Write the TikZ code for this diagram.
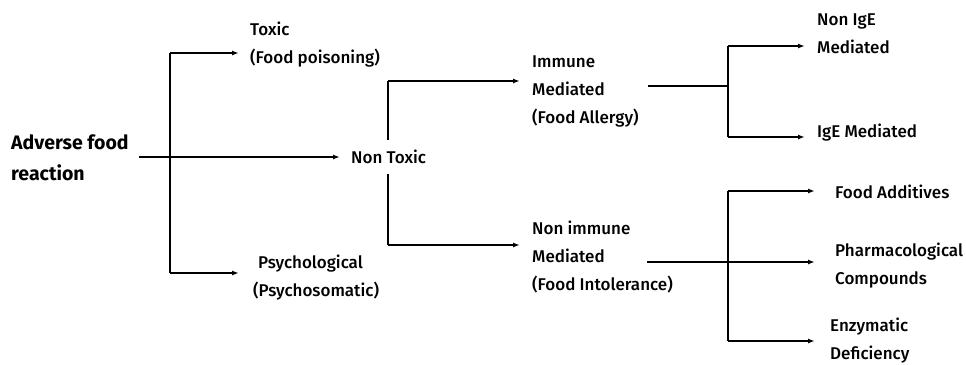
\documentclass[tikz,border=0pt]{standalone}
\usepackage{fontspec}
\setmainfont{Fira Sans Medium}[BoldFont={Fira Sans Bold}]
\usetikzlibrary{arrows.meta}
\begin{document}
\begin{tikzpicture}[x=1pt,y=-1pt,
  lbl/.style={anchor=west,align=left,inner ysep=0pt,font=\fontsize{17}{28}\selectfont},
  conn/.style={line width=1.4pt},
  arr/.style={conn,-{Latex[length=7pt,width=5pt]}}]
\useasboundingbox[fill=white] (0,0) rectangle (966,364);
% nodes
\node[lbl,inner xsep=0pt,font=\fontsize{19.5}{31}\selectfont\bfseries] (adv) at (11,157.5) {Adverse food\\reaction};
\node[lbl,inner xsep=11pt] (toxic) at (239,45) {Toxic\\(Food poisoning)};
\node[lbl,inner xsep=14pt] (psych) at (239,278) {\hspace*{5pt}Psychological\\(Psychosomatic)};
\node[lbl,inner xsep=11pt,inner ysep=10pt] (nontox) at (340,157) {Non Toxic};
\node[lbl,inner xsep=12pt] (immune) at (520,91) {Immune\\Mediated\\(Food Allergy)};
\node[lbl,inner xsep=12pt] (nonimm) at (520,257) {Non immune\\Mediated\\(Food Intolerance)};
\node[lbl,inner xsep=12pt] (nonige) at (805,33.5) {Non IgE\\Mediated};
\node[lbl,inner xsep=12pt] (ige) at (805,133) {IgE Mediated};
\node[lbl,inner xsep=20pt] (addit) at (815,192) {Food Additives};
\node[lbl,inner xsep=20pt] (pharm) at (815,265.5) {Pharmacological\\Compounds};
\node[lbl,inner xsep=15pt] (enzym) at (815,341) {Enzymatic\\Deficiency};
% branch coordinates
\coordinate (a0) at (139,157);
\coordinate (b1) at (170,53);
\coordinate (b2) at (170,273);
\coordinate (c1) at (388,81);
\coordinate (c2) at (388,245);
\coordinate (d0) at (648,86);
\coordinate (d1) at (728,46);
\coordinate (d2) at (728,137);
\coordinate (e0) at (647,262);
\coordinate (e1) at (728,191);
\coordinate (e2) at (728,341);
% connectors
\draw[conn] (b1) -- (b2);
\draw[arr] (b1) -- (toxic.west |- b1);
\draw[arr] (b2) -- (psych.west |- b2);
\draw[arr] (a0) -- (nontox.west);
\draw[conn] (c1) -- (c1 |- nontox.north);
\draw[conn] (c2) -- (c2 |- nontox.south);
\draw[arr] (c1) -- (immune.west |- c1);
\draw[arr] (c2) -- (nonimm.west |- c2);
\draw[conn] (d0) -- (d0 -| d1);
\draw[conn] (d1) -- (d2);
\draw[arr] (d1) -- (nonige.west |- d1);
\draw[arr] (d2) -- (ige.west |- d2);
\draw[conn] (e1) -- (e2);
\draw[arr] (e0) -- (pharm.west |- e0);
\draw[arr] (e1) -- (addit.west |- e1);
\draw[arr] (e2) -- (enzym.west |- e2);
\end{tikzpicture}
\end{document}
